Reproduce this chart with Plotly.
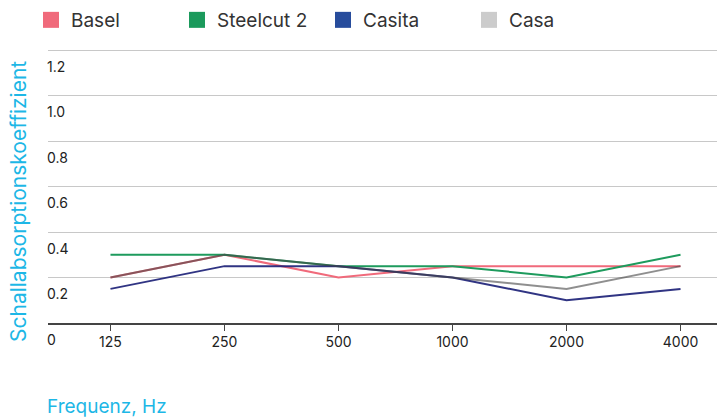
import plotly.graph_objects as go

frequencies = ["125", "250", "500", "1000", "2000", "4000"]
x_pos = [1, 2, 3, 4, 5, 6]

basel = [0.2, 0.3, 0.2, 0.25, 0.25, 0.25]
steelcut2 = [0.3, 0.3, 0.25, 0.25, 0.2, 0.3]
casita = [0.15, 0.25, 0.25, 0.2, 0.1, 0.15]
casa = [0.2, 0.3, 0.25, 0.2, 0.15, 0.25]

y_ticks = [0, 0.2, 0.4, 0.6, 0.8, 1.0, 1.2]
y_tick_labels = ["0", "0.2", "0.4", "0.6", "0.8", "1.0", "1.2"]

series = [
    ("Basel", basel, "#F06A7B", "#F06A7B"),
    ("Steelcut 2", steelcut2, "#1E9B5D", "#1B9A5C"),
    ("Casita", casita, "rgba(30,35,120,0.92)", "#274C9C"),
    ("Casa", casa, "rgba(68,68,68,0.6)", "#CCCCCC"),
]

fig = go.Figure()
for name, vals, line_col, leg_col in series:
    fig.add_trace(go.Scatter(
        x=x_pos, y=vals, mode="lines", name=name,
        line=dict(color=line_col, width=2),
        showlegend=False, hoverinfo="skip",
    ))
for name, vals, line_col, leg_col in series:
    fig.add_trace(go.Scatter(
        x=[None], y=[None], mode="markers", name=name,
        marker=dict(symbol="square", size=16, color=leg_col),
        showlegend=True,
    ))

W, H = 717, 418
L, R, T, B = 48, 0, 48, 95
PW, PH = W - L - R, H - T - B
Y_TOP = 1.2 * PH / 273.0

fig.update_layout(
    width=W, height=H,
    margin=dict(l=L, r=R, t=T, b=B, autoexpand=False),
    paper_bgcolor="white", plot_bgcolor="white",
    font=dict(family="Inter, Roboto, sans-serif", color="#222"),
    legend=dict(
        orientation="h", xref="container", yref="container",
        x=31 / W, y=1 - 20 / H, xanchor="left", yanchor="middle",
        font=dict(size=19, color="#333"),
        entrywidth=101, entrywidthmode="pixels",
        itemclick=False, bgcolor="rgba(0,0,0,0)",
    ),
    xaxis=dict(
        range=[0.452, 6.32],
        tickmode="array", tickvals=x_pos, ticktext=frequencies,
        showgrid=False, zeroline=False,
        showline=True, linecolor="#444", linewidth=1.5,
        ticks="outside", ticklen=6, tickcolor="#444", tickwidth=1,
        tickfont=dict(size=14, color="#222"),
    ),
    yaxis=dict(
        range=[0, Y_TOP],
        tickmode="array", tickvals=y_ticks, ticktext=y_tick_labels,
        showgrid=True, gridcolor="#C8C8C8", gridwidth=1,
        zeroline=False, showline=False,
        ticklabelposition="inside", ticklabelshift=17,
        ticklabelstandoff=-4,
        ticklabeloverflow="allow",
        tickfont=dict(size=14, color="#222"),
    ),
    annotations=[
        dict(text="Schallabsorptionskoeffizient", textangle=-90,
             xref="paper", yref="paper", x=-L / PW, y=(323 - 202) / PH,
             xshift=18, xanchor="center", yanchor="middle", showarrow=False,
             font=dict(size=21, color="#1DB7E6")),
        dict(text="Frequenz, Hz",
             xref="paper", yref="paper", x=-L / PW, y=-(406 - 323) / PH,
             xshift=45, xanchor="left", yanchor="middle", showarrow=False,
             font=dict(size=19, color="#1DB7E6")),
    ],
)

fig.write_html(
    "out.html",
    config={"displayModeBar": False, "staticPlot": True},
    post_script="document.body.style.margin='0';document.body.style.padding='0';",
)
